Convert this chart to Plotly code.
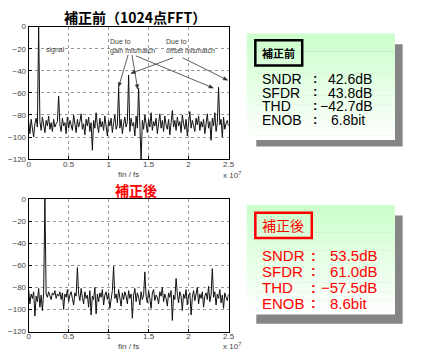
import numpy as np
import plotly.graph_objects as go

# The page body has an 8px margin, so the figure is laid out 8px in from the window corner.
OFF = 8
W, H = 445 - OFF, 356 - OFF

# ---------------- data ----------------
before_db = [
    -86, -97, -84, -92, -100, -88, -83, -91, 0, -86, -94, -82, -89, -96, -85, -90, -81, -93, -87, -95,
    -84, -91, -88, -86, -63, -89, -95, -83, -90, -87, -97, -82, -92, -85, -89, -94, -80, -88, -96, -84,
    -91, -86, -79, -93, -88, -98, -84, -90, -82, -95, -87, -112, -85, -92, -78, -89, -96, -83, -91, -86,
    -94, -81, -88, -99, -85, -90, -83, -96, -87, -80, -93, -89, -55, -92, -84, -97, -88, -82, -91, -86,
    -44, -95, -83, -90, -87, -99, -81, -92, -56, -88, -122, -85, -93, -80, -89, -96, -84, -91, -78, -94,
    -86, -90, -83, -97, -88, -79, -92, -85, -95, -81, -89, -93, -84, -98, -87, -76, -91, -85, -94, -82,
    -90, -86, -96, -80, -88, -93, -84, -99, -87, -77, -92, -85, -90, -95, -83, -89, -81, -94, -86, -91,
    -84, -97, -88, -79, -92, -86, -103, -83, -90, -78, -95, -87, -55, -89, -84, -100, -82, -93, -88, -85,
    -90,
]
after_db = [
    -82, -95, -86, -90, -84, -106, -88, -93, -81, -98, -87, -101, -85, 0, -86, -89, -84, -88, -91, -85,
    -87, -83, -90, -86, -88, -84, -91, -85, -100, -86, -89, -82, -93, -87, -84, -90, -96, -85, -88, -62,
    -86, -92, -81, -89, -95, -84, -90, -87, -98, -83, -105, -88, -91, -80, -104, -86, -93, -85, -89, -82,
    -96, -87, -84, -91, -85, -99, -88, -83, -61, -90, -86, -94, -82, -89, -97, -85, -91, -84, -88, -95,
    -83, -90, -86, -108, -87, -81, -93, -85, -89, -96, -84, -91, -87, -66, -88, -94, -83, -90, -99, -85,
    -82, -92, -87, -89, -95, -84, -88, -80, -93, -86, -90, -97, -85, -89, -83, -110, -87, -91, -72, -86,
    -94, -84, -88, -101, -86, -90, -82, -96, -87, -85, -105, -89, -83, -92, -87, -80, -95, -86, -90, -84,
    -98, -88, -85, -91, -79, -93, -87, -63, -89, -84, -96, -86, -90, -82, -94, -87, -99, -85, -89, -92,
    -86,
]
f_max = 2.5e7
x_before = np.arange(len(before_db)) * f_max / (len(before_db) - 1)
x_after = np.arange(len(after_db)) * f_max / (len(after_db) - 1)

x_ticks = [0, 0.5e7, 1e7, 1.5e7, 2e7, 2.5e7]
x_tick_text = ["0", "0.5", "1", "1.5", "2", "2.5"]
y_ticks = [0, -20, -40, -60, -80, -100, -120]

metric_names = ["SNDR", "SFDR", "THD", "ENOB"]
before_vals = ["42.6dB", "43.8dB", "−42.7dB", "6.8bit"]
after_vals = ["53.5dB", "61.0dB", "−57.5dB", "8.6bit"]

# ---------------- helpers (window pixel -> paper) ----------------
def px(x):
    return (x - OFF) / W

def py(y):
    return 1 - (y - OFF) / H

fig = go.Figure()
fig.add_trace(go.Scatter(x=x_before, y=before_db, mode="lines",
                         line=dict(color="#111111", width=1), xaxis="x", yaxis="y",
                         showlegend=False, hoverinfo="skip"))
fig.add_trace(go.Scatter(x=x_after, y=after_db, mode="lines",
                         line=dict(color="#111111", width=1), xaxis="x2", yaxis="y2",
                         showlegend=False, hoverinfo="skip"))

axis_common = dict(showline=True, linecolor="black", linewidth=1, mirror=True,
                   showgrid=True, gridcolor="#9a9a9a", griddash="dot", gridwidth=1,
                   zeroline=False, ticks="inside", ticklen=3, tickcolor="black",
                   tickfont=dict(family="Liberation Sans", size=8, color="#444444"))

xdom = [px(16), px(225)]
fig.update_layout(
    width=W, height=H, margin=dict(l=0, r=0, t=0, b=0),
    paper_bgcolor="white", plot_bgcolor="white",
    xaxis=dict(domain=xdom, range=[0, f_max], tickvals=x_ticks, ticktext=x_tick_text,
               anchor="y", ticklabelstandoff=-3, **axis_common),
    yaxis=dict(domain=[py(159), py(23)], range=[-120, 0], tickvals=y_ticks,
               anchor="x", **axis_common),
    xaxis2=dict(domain=xdom, range=[0, f_max], tickvals=x_ticks, ticktext=x_tick_text,
                anchor="y2", ticklabelstandoff=-3, **axis_common),
    yaxis2=dict(domain=[py(336), py(200)], range=[-120, 0], tickvals=y_ticks,
                anchor="x2", **axis_common),
)

ann = []
def text(x, y, s, size, color="black", family="Liberation Sans", xanchor="center", bold=False):
    if bold:
        s = "<b>" + s + "</b>"
    ann.append(dict(x=px(x), y=py(y), xref="paper", yref="paper", text=s, showarrow=False,
                    xanchor=xanchor, yanchor="middle",
                    font=dict(size=size, color=color, family=family)))

# chart titles
text(127, 13, "補正前（1024点FFT）", 14, "black", "Noto Sans CJK JP", bold=True)
text(128, 191, "補正後", 14, "#ff0000", "Noto Sans CJK JP", bold=True)

# axis labels
text(120, 175, "fin / fs", 8, "#444444")
text(120, 351, "fin / fs", 8, "#444444")
text(229, 175, "x 10<sup>7</sup>", 8, "#444444")
text(229, 351, "x 10<sup>7</sup>", 8, "#444444")

# annotations on top spectrum
text(32, 47, "signal", 7, "#444444", xanchor="left")
text(99, 38, "Due to", 7, "#444444", xanchor="left")
text(99, 48, "gain mismatch", 7, "#444444", xanchor="left")
text(157, 38, "Due to", 7, "#444444", xanchor="left")
text(157, 48, "offset mismatch", 7, "#444444", xanchor="left")

shapes = []

arrows = [
    ((120, 52), (110, 85)),
    ((124, 52), (130, 87)),
    ((128, 53), (209, 86)),
    ((167, 55), (123, 71)),
    ((177, 55), (224, 78)),
]
for (x0, y0), (x1, y1) in arrows:
    shapes.append(dict(type="line", xref="paper", yref="paper",
                       x0=px(x0), y0=py(y0), x1=px(x1), y1=py(y1),
                       line=dict(color="#333333", width=0.8), layer="above"))
    d = np.array([x1 - x0, y1 - y0], dtype=float)
    d /= np.hypot(*d)
    nrm = np.array([-d[1], d[0]])
    base = np.array([x1, y1]) - d * 4.5
    p1 = base + nrm * 1.8
    p2 = base - nrm * 1.8
    path = (f"M {px(x1)} {py(y1)} L {px(p1[0])} {py(p1[1])} "
            f"L {px(p2[0])} {py(p2[1])} Z")
    shapes.append(dict(type="path", xref="paper", yref="paper", path=path,
                       fillcolor="#333333", line=dict(color="#333333", width=0.5),
                       layer="above"))

# info boxes
def info_box(top, bottom, shadow_top, shadow_bottom):
    shapes.append(dict(type="rect", xref="paper", yref="paper", x0=px(254), x1=px(407),
                       y0=py(shadow_bottom), y1=py(shadow_top), fillcolor="#858585",
                       line=dict(width=0), layer="above"))
    n = 24
    c0 = np.array([204, 255, 204])
    c1 = np.array([255, 255, 255])
    for k in range(n):
        t = k / (n - 1)
        c = (c0 + (c1 - c0) * t).astype(int)
        ya = top + (bottom - top) * k / n
        yb = top + (bottom - top) * (k + 1) / n
        shapes.append(dict(type="rect", xref="paper", yref="paper", x0=px(244), x1=px(399),
                           y0=py(yb + 0.5), y1=py(ya), fillcolor=f"rgb({c[0]},{c[1]},{c[2]})",
                           line=dict(width=0), layer="above"))

info_box(30, 139, 41, 146)
info_box(206, 318, 217, 328)

shapes.append(dict(type="rect", xref="paper", yref="paper", x0=px(253), x1=px(302),
                   y0=py(63), y1=py(37), line=dict(color="black", width=2.5), layer="above"))
shapes.append(dict(type="rect", xref="paper", yref="paper", x0=px(253), x1=px(312),
                   y0=py(240), y1=py(214), line=dict(color="#ff0000", width=2.5), layer="above"))

text(277, 50, "補正前", 11, "black", "Noto Sans CJK JP", bold=True)
text(282, 227, "補正後", 14, "#ff0000", "Noto Sans CJK JP")

# metric rows: name, colon, value in one line each
top_rows = [77, 91, 105, 119]
top_val_x = [327, 327, 318, 330]
for name, val, yy, vx in zip(metric_names, before_vals, top_rows, top_val_x):
    text(258, yy, name, 14, "black", xanchor="left")
    text(315, yy - 1, ":", 13, "black", bold=True)
    text(vx, yy, val, 14, "black", xanchor="left")

bot_rows = [258, 274, 291, 307]
bot_val_x = [329, 329, 320, 329]
for name, val, yy, vx in zip(metric_names, after_vals, bot_rows, bot_val_x):
    text(258, yy, name, 15, "#ff0000", xanchor="left")
    text(314, yy, ":", 14, "#ff0000", bold=True)
    text(vx, yy, val, 15, "#ff0000", xanchor="left")

fig.update_layout(annotations=ann, shapes=shapes)
fig.write_html("out.html")
